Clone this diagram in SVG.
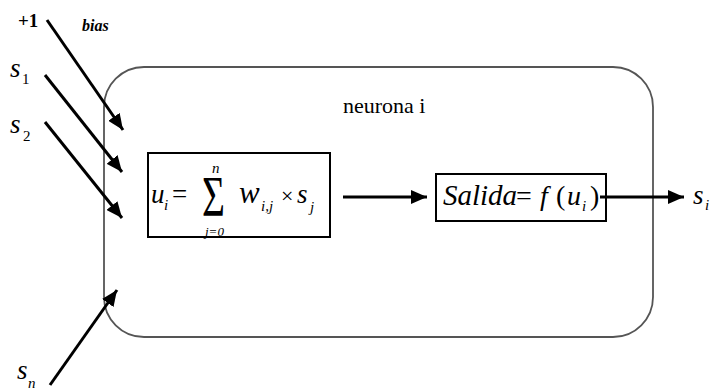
<svg xmlns="http://www.w3.org/2000/svg" width="710" height="390" viewBox="0 0 710 390">
<defs>
<style>
text{font-family:"Liberation Serif","DejaVu Serif","Times New Roman",serif;fill:#000}
.it{font-style:italic}
.big{font-size:27px}
.sub{font-size:15px}
.con{stroke:#000;stroke-width:3;fill:none;marker-end:url(#ah)}
.box{fill:#fff;stroke:#000;stroke-width:2}
</style>
<marker id="ah" markerUnits="userSpaceOnUse" markerWidth="18" markerHeight="14" refX="16" refY="7" orient="auto">
<path d="M0,0 L16,7 L0,14 z" fill="#000"/>
</marker>
</defs>
<rect width="710" height="390" fill="#fff"/>
<g id="neurona">
<rect x="104" y="67" width="549" height="270" rx="40" ry="40" fill="#fff" stroke="#555" stroke-width="1.8"/>
<text x="343" y="113" font-size="22">neurona i</text>
</g>
<g id="suma">
<rect class="box" x="148" y="153" width="182" height="84"/>
<text class="it big" x="151" y="203">u</text>
<text class="it sub" x="164" y="210">i</text>
<text class="big" x="172" y="203">=</text>
<text font-size="58" transform="translate(202,216) scale(0.68,1)">Σ</text>
<text class="it sub" x="212" y="173">n</text>
<text class="it" font-size="13" x="205" y="236">j=0</text>
<text class="it" font-size="31" x="239" y="203">w</text>
<text class="it sub" x="261" y="211">i,j</text>
<text font-size="22" x="281" y="203">×</text>
<text class="it big" x="297" y="203">s</text>
<text class="it sub" x="310" y="212">j</text>
</g>
<g id="salida">
<rect class="box" x="436" y="174" width="170" height="47"/>
<text class="it" font-size="29" x="443" y="205">Salida</text>
<text font-size="28" x="516" y="205">=</text>
<text class="it" font-size="28" x="540" y="205">f</text>
<text font-size="28" x="556" y="205">(</text>
<text class="it" font-size="28" x="567" y="205">u</text>
<text class="it sub" x="582" y="211">i</text>
<text font-size="28" x="590" y="205">)</text>
</g>
<g id="entradas">
<text font-size="19" font-weight="bold" x="18" y="27">+1</text>
<text class="it" font-size="16" font-weight="bold" x="82" y="31">bias</text>
<text class="it big" x="10" y="77">s</text>
<text class="sub" x="22" y="84">1</text>
<text class="it big" x="10" y="133">s</text>
<text class="sub" x="23" y="141">2</text>
<text class="it big" x="17" y="379">s</text>
<text class="it sub" x="28" y="388">n</text>
</g>
<g id="salida-label">
<text class="it big" x="693" y="204">s</text>
<text class="it sub" x="705" y="210">i</text>
</g>
<g id="connectors">
<line class="con" x1="47" y1="20" x2="123" y2="130"/>
<line class="con" x1="45" y1="75" x2="122" y2="172"/>
<line class="con" x1="45" y1="122" x2="122" y2="218"/>
<line class="con" x1="50" y1="385" x2="117" y2="290"/>
<line class="con" x1="343" y1="197" x2="427" y2="197"/>
<line class="con" x1="600" y1="197" x2="684" y2="197"/>
</g>
</svg>
